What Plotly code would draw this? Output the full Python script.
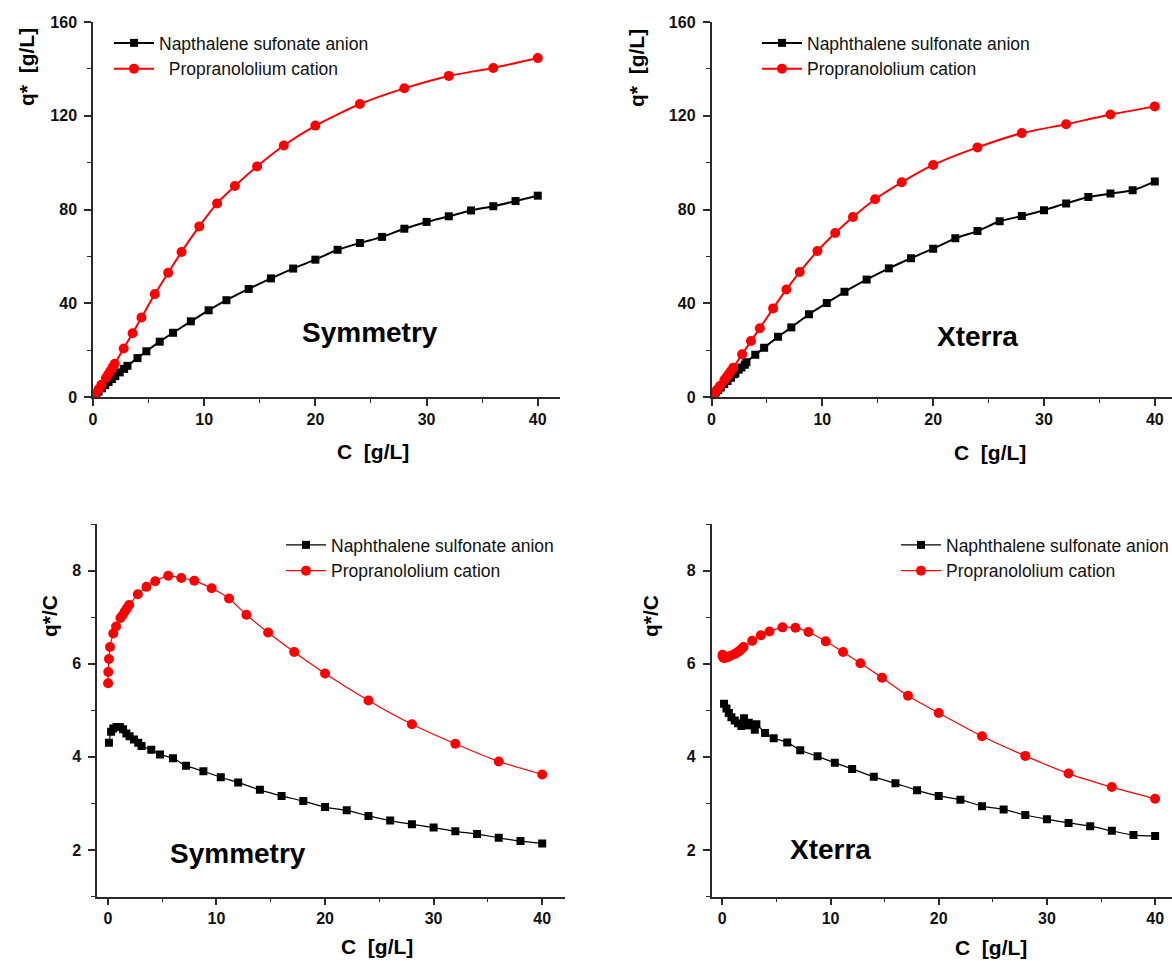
import plotly.graph_objects as go

W, H = 1172, 961

# ---------------- data ----------------
# Symmetry column
sym_anion_C = [0.1, 0.3, 0.5, 0.8, 1.1, 1.4, 1.7, 2.0, 2.4, 2.8, 3.1, 4.0, 4.8, 6.0, 7.2, 8.8,
               10.4, 12, 14, 16, 18, 20, 22, 24, 26, 28, 30, 32, 34, 36, 38, 40]
sym_anion_q = [0.43, 1.36, 2.3, 3.7, 5.1, 6.4, 7.65, 8.9, 10.5, 12.0, 13.3, 16.6, 19.5, 23.6, 27.4, 32.3,
               37.0, 41.3, 46.1, 50.6, 54.8, 58.6, 62.8, 65.7, 68.3, 71.8, 74.7, 77.1, 79.6, 81.4, 83.6, 85.9]
sym_anion_qc = [4.30, 4.54, 4.61, 4.64, 4.64, 4.59, 4.50, 4.44, 4.37, 4.30, 4.23, 4.15, 4.05, 3.97, 3.81, 3.69,
                3.56, 3.45, 3.29, 3.16, 3.05, 2.92, 2.85, 2.73, 2.63, 2.55, 2.48, 2.40, 2.34, 2.26, 2.19, 2.14]

sym_cation_C = [0.02, 0.04, 0.1, 0.2, 0.5, 0.76, 1.16, 1.36, 1.56, 1.76, 1.96, 2.76, 3.56, 4.36, 5.56, 6.76,
                7.96, 9.56, 11.16, 12.76, 14.76, 17.16, 20, 24, 28, 32, 36, 40]
sym_cation_q = [0.11, 0.23, 0.61, 1.27, 3.3, 5.2, 8.1, 9.6, 11.1, 12.7, 14.2, 20.7, 27.2, 33.9, 43.9, 53.0,
                61.9, 72.8, 82.6, 90.0, 98.4, 107.3, 115.8, 125.0, 131.7, 137.0, 140.4, 144.6]
sym_cation_qc = [5.58, 5.82, 6.10, 6.36, 6.65, 6.80, 6.98, 7.04, 7.12, 7.19, 7.26, 7.49, 7.65, 7.77, 7.89, 7.84,
                 7.78, 7.62, 7.40, 7.05, 6.67, 6.25, 5.79, 5.21, 4.70, 4.28, 3.90, 3.62]

# Xterra column
xt_anion_C = [0.16, 0.38, 0.6, 0.84, 1.15, 1.45, 1.76, 2.0, 2.15, 2.45, 2.7, 3.0, 3.15, 3.95, 4.75, 6.0, 7.2,
              8.8, 10.4, 12, 14, 16, 18, 20, 22, 24, 26, 28, 30, 32, 34, 36, 38, 40]
xt_anion_q = [0.82, 1.92, 2.96, 4.07, 5.5, 6.84, 8.2, 9.66, 10.06, 11.59, 12.64, 13.74, 14.81, 18.0, 21.0, 25.7, 29.7,
              35.3, 40.1, 44.9, 50.1, 54.9, 59.2, 63.3, 67.7, 70.8, 75.0, 77.2, 79.7, 82.6, 85.3, 86.8, 88.2, 91.9]
xt_anion_qc = [5.14, 5.04, 4.94, 4.85, 4.78, 4.72, 4.66, 4.83, 4.68, 4.73, 4.68, 4.58, 4.70, 4.51, 4.40, 4.31, 4.14,
               4.01, 3.87, 3.74, 3.57, 3.43, 3.28, 3.16, 3.08, 2.94, 2.87, 2.75, 2.66, 2.58, 2.51, 2.41, 2.32, 2.30]

xt_cation_C = [0.02, 0.04, 0.1, 0.2, 0.5, 0.76, 1.16, 1.36, 1.56, 1.76, 1.96, 2.76, 3.56, 4.36, 5.56, 6.76,
               7.96, 9.56, 11.16, 12.76, 14.76, 17.16, 20, 24, 28, 32, 36, 40]
xt_cation_q = [0.12, 0.25, 0.61, 1.22, 3.07, 4.69, 7.2, 8.49, 9.78, 11.1, 12.5, 18.2, 23.9, 29.3, 37.8, 45.9,
               53.3, 62.3, 70.0, 76.8, 84.4, 91.6, 99.0, 106.5, 112.6, 116.4, 120.5, 124.0]
xt_cation_qc = [6.19, 6.16, 6.13, 6.12, 6.14, 6.17, 6.21, 6.24, 6.27, 6.31, 6.36, 6.49, 6.61, 6.69, 6.78, 6.77,
                6.68, 6.48, 6.25, 6.01, 5.70, 5.31, 4.94, 4.44, 4.02, 3.64, 3.35, 3.10]

sym_names = ["Napthalene sufonate anion", "\u00a0\u00a0Propranololium cation"]
std_names = ["Naphthalene sulfonate anion", "Propranololium cation"]

x_ticks = [0, 10, 20, 30, 40]
top_y_ticks = [0, 40, 80, 120, 160]
bot_y_ticks = [2, 4, 6, 8]

# ---------------- styling ----------------
FONT = "Liberation Sans, Arial, Helvetica, sans-serif"
BLACK = "#000000"
RED = "#ff0000"
AX = "#2a2a2a"


def px_x(p):
    return p / W


def px_y(p):
    return 1 - p / H


fig = go.Figure()


def add_pair(xaxis, yaxis, legend, names, aC, aY, cC, cY, lw, ms_sq, ms_ci):
    fig.add_trace(go.Scatter(
        x=aC, y=aY, name=names[0], mode="lines+markers",
        xaxis=xaxis, yaxis=yaxis, legend=legend,
        line=dict(color=BLACK, width=lw, shape="spline", smoothing=0.6),
        marker=dict(symbol="square", size=ms_sq, color=BLACK)))
    fig.add_trace(go.Scatter(
        x=cC, y=cY, name=names[1], mode="lines+markers",
        xaxis=xaxis, yaxis=yaxis, legend=legend,
        line=dict(color=RED, width=lw, shape="spline", smoothing=0.6),
        marker=dict(symbol="circle", size=ms_ci, color=RED)))


add_pair("x", "y", "legend", sym_names, sym_anion_C, sym_anion_q, sym_cation_C, sym_cation_q, 2, 8, 10)
add_pair("x2", "y2", "legend2", std_names, xt_anion_C, xt_anion_q, xt_cation_C, xt_cation_q, 2, 8, 10)
add_pair("x3", "y3", "legend3", std_names, sym_anion_C, sym_anion_qc, sym_cation_C, sym_cation_qc, 1.2, 8, 10)
add_pair("x4", "y4", "legend4", std_names, xt_anion_C, xt_anion_qc, xt_cation_C, xt_cation_qc, 1.2, 8, 10)

tickfont = dict(family=FONT, size=16, color="#111111", weight="bold")


def bold(vals):
    return ["<b>%g</b>" % v for v in vals]


def common(domain, rng, anchor, tickvals, minor_dtick, minor_tick0):
    return dict(domain=domain, range=rng, anchor=anchor, showgrid=False, zeroline=False,
                showline=True, linecolor=AX, linewidth=1.5, ticks="outside", ticklen=7,
                tickwidth=1.5, tickcolor=AX, tickmode="array", tickvals=tickvals,
                ticktext=bold(tickvals), tickfont=tickfont,
                minor=dict(ticks="outside", ticklen=4, tickwidth=1.2, tickcolor=AX,
                           tickmode="linear", dtick=minor_dtick, tick0=minor_tick0),
                fixedrange=True)


top_y = [px_y(397), px_y(22)]
bot_y = [px_y(896.5), px_y(524)]

ya_top = dict(ticklabelstandoff=4)

fig.update_layout(
    xaxis=common([px_x(93), px_x(560)], [0, 42], "y", x_ticks, 5, 0),
    yaxis=dict(common(top_y, [0, 160], "x", top_y_ticks, 20, 0), **ya_top),
    xaxis2=common([px_x(711.5), 1.0], [0, 41.55], "y2", x_ticks, 5, 0),
    yaxis2=dict(common(top_y, [0, 160], "x2", top_y_ticks, 20, 0), **ya_top),
    xaxis3=common([px_x(97), px_x(565)], [-1, 42.1], "y3", x_ticks, 5, 0),
    yaxis3=dict(common(bot_y, [1, 9], "x3", bot_y_ticks, 1, 0), **ya_top),
    xaxis4=common([px_x(711.5), 1.0], [-1, 41.56], "y4", x_ticks, 5, 0),
    yaxis4=dict(common(bot_y, [1, 9], "x4", bot_y_ticks, 1, 0), **ya_top),
)

legfont = dict(family=FONT, size=17.5, color="#111111")


def leg(xp, yp):
    return dict(x=px_x(xp), y=px_y(yp), xanchor="left", yanchor="top", bgcolor="rgba(0,0,0,0)",
                borderwidth=0, font=legfont, itemwidth=40, tracegroupgap=0)


fig.update_layout(
    legend=leg(109, 25),
    legend2=leg(757, 25),
    legend3=leg(281, 527),
    legend4=leg(896, 527),
)

annotations = []


def ann(text, xp, yp, size, angle=0, bold_=True):
    annotations.append(dict(text=text, x=px_x(xp), y=px_y(yp), xref="paper", yref="paper",
                            xanchor="center", yanchor="middle", showarrow=False, textangle=angle,
                            font=dict(family=FONT, size=size, color="#000000",
                                      weight="bold" if bold_ else "normal")))


# axis titles
ann("q*\u00a0 [g/L]", 26, 67, 21, angle=-90)
ann("C\u00a0 [g/L]", 373, 451, 21)
ann("q*\u00a0 [g/L]", 636, 68, 21, angle=-90)
ann("C\u00a0 [g/L]", 990, 452, 21)
ann("q*/C", 49, 616, 21, angle=-90)
ann("C\u00a0 [g/L]", 377, 946, 21)
ann("q*/C", 650, 616, 21, angle=-90)
ann("C\u00a0 [g/L]", 991, 947, 21)
# column labels
ann("Symmetry", 370, 332, 28)
ann("Xterra", 977, 336, 28)
ann("Symmetry", 238, 853, 28)
ann("Xterra", 830, 849, 28)

fig.update_layout(
    annotations=annotations,
    width=W, height=H,
    margin=dict(l=0, r=0, t=0, b=0, autoexpand=False),
    paper_bgcolor="white", plot_bgcolor="white",
    font=dict(family=FONT, color="#111111"),
)

fig.write_html("out.html", config={"displayModeBar": False})
